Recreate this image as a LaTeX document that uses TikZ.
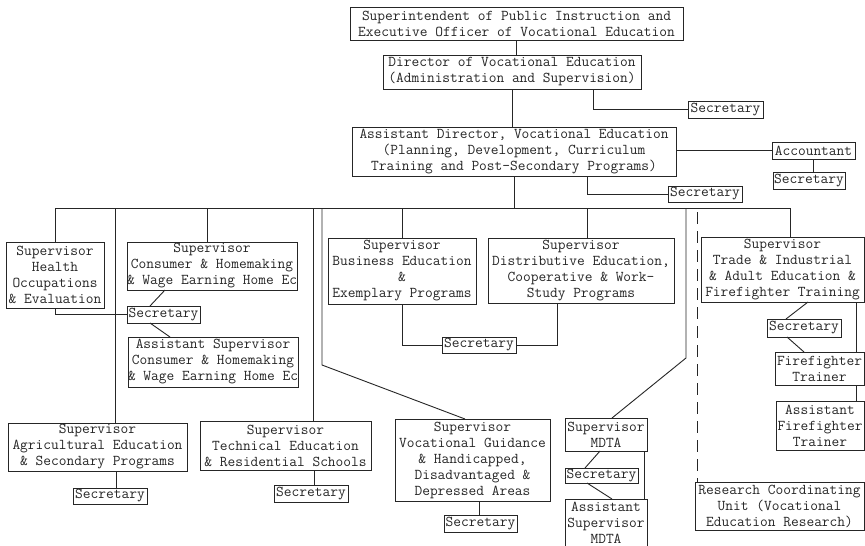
\documentclass[tikz,border=0pt]{standalone}
\usetikzlibrary{calc}
\tikzset{
  orgbox/.style={draw=black!85, line width=0.9pt, rectangle, inner sep=0pt, outer sep=0pt,
    align=center, text=black!85, font={\ttfamily\fontsize{15}{16}\selectfont}},
  link/.style={draw=black!85, line width=0.9pt},
  dashlink/.style={link, dash pattern=on 12pt off 7pt}
}
\newcommand\orgnode[6]{\node[orgbox, minimum width={(#4)-(#2)}, minimum height={(#5)-(#3)}]
  (#1) at ({((#2)+(#4))/2},{((#3)+(#5))/2}) {#6};}
\begin{document}
\begin{tikzpicture}[x=1pt,y=-1pt]
\useasboundingbox (0,0) rectangle (865,546);
\fill[white] (0,0) rectangle (865,546);
% top
\orgnode{super}{350}{7}{683}{40}{Superintendent of Public Instruction and\\Executive Officer of Vocational Education}
\orgnode{director}{383}{55}{641}{89}{Director of Vocational Education\\(Administration and Supervision)}
\orgnode{dsec}{688}{101}{763}{118}{Secretary}
\orgnode{ad}{352}{127}{676}{176}{Assistant Director, Vocational Education\\(Planning, Development, Curriculum\\Training and Post-Secondary Programs)}
\orgnode{acct}{772}{142}{855}{159}{Accountant}
\orgnode{asec}{773}{172}{845}{189}{Secretary}
\orgnode{adsec}{668}{186}{742}{202}{Secretary}
% left
\orgnode{health}{6}{242}{104}{308}{Supervisor\\Health\\Occupations\\\& Evaluation}
\orgnode{ch}{127}{242}{297}{290}{Supervisor\\Consumer \& Homemaking\\\& Wage Earning Home Ec}
\orgnode{chsec}{127}{306}{200}{323}{Secretary}
\orgnode{chasst}{128}{337}{298}{387}{Assistant Supervisor\\Consumer \& Homemaking\\\& Wage Earning Home Ec}
\orgnode{agri}{8}{423}{187}{471}{Supervisor\\Agricultural Education\\\& Secondary Programs}
\orgnode{agrisec}{73}{488}{147}{504}{Secretary}
\orgnode{tech}{200}{421}{371}{470}{Supervisor\\Technical Education\\\& Residential Schools}
\orgnode{techsec}{274}{485}{348}{502}{Secretary}
% middle
\orgnode{bus}{328}{238}{476}{304}{Supervisor\\Business Education\\\&\\Exemplary Programs}
\orgnode{dist}{488}{238}{674}{303}{Supervisor\\Distributive Education,\\Cooperative \& Work-\\Study Programs}
\orgnode{bsec}{442}{337}{516}{353}{Secretary}
\orgnode{vg}{395}{419}{550}{501}{Supervisor\\Vocational Guidance\\\& Handicapped,\\Disadvantaged \&\\Depressed Areas}
\orgnode{vgsec}{444}{515}{517}{532}{Secretary}
\orgnode{mdta}{565}{418}{647}{451}{Supervisor\\MDTA}
\orgnode{mdtasec}{565}{468}{638}{483}{Secretary}
\orgnode{mdtaasst}{565}{499}{647}{547}{Assistant\\Supervisor\\MDTA}
% right
\orgnode{ti}{701}{237}{864}{302}{Supervisor\\Trade \& Industrial\\\& Adult Education \&\\Firefighter Training}
\orgnode{tisec}{767}{319}{841}{337}{Secretary}
\orgnode{ft}{775}{352}{864}{385}{Firefighter\\Trainer}
\orgnode{aft}{776}{401}{864}{450}{Assistant\\Firefighter\\Trainer}
\orgnode{research}{695}{482}{864}{530}{Research Coordinating\\Unit (Vocational\\Education Research)}
% top connectors
\draw[link] (super.south) -- (super.south |- director.north);
\draw[link] (director.south) -- (director.south |- ad.north);
\draw[link] ($(director.south west)+(210,0)$) |- (dsec.west);
\draw[link] (acct.west -| ad.east) -- (acct.west);
\draw[link] (acct.south) -- (acct.south |- asec.north);
\draw[link] ($(ad.south west)+(235,0)$) |- (adsec.west);
% bus
\coordinate (bL) at (55,208);
\coordinate (bR) at (790,208);
\coordinate (b2) at (115,208);
\coordinate (b3) at (207,208);
\coordinate (b4) at (313,208);
\coordinate (b5) at (322,208);
\coordinate (k5) at (322,365);
\coordinate (b6) at (402,208);
\coordinate (b7) at (587,208);
\coordinate (b8) at (686,208);
\coordinate (k8) at (686,358);
\coordinate (dtop) at (697,212);
\draw[link] (bL) -- (bR);
\draw[link] (ad.south) -- (ad.south |- bL);
\draw[link] (bL) -- (health.north);
\draw[link] (b2) -- (b2 |- agri.north);
\draw[link] (b3) -- (b3 |- ch.north);
\draw[link] (b4) -- (b4 |- tech.north);
\draw[link] (b5) -- (k5) -- ($(vg.north west)+(70,0)$);
\draw[link] (b6) -- (b6 |- bus.north);
\draw[link] (b7) -- (b7 |- dist.north);
\draw[link] (b8) -- (k8) -- ($(mdta.north west)+(47,0)$);
\draw[link] (bR) -- (bR |- ti.north);
\draw[dashlink] (dtop) -- (dtop |- research.north);
% left connectors
\draw[link] (health.south) |- (chsec.west);
\draw[link] ($(ch.south west)+(38,0)$) -- ($(chsec.north west)+(23,0)$);
\draw[link] ($(chsec.south west)+(23,0)$) -- ($(chasst.north west)+(42,0)$);
\draw[link] ($(agri.south west)+(108,0)$) -- ($(agrisec.north west)+(43,0)$);
\draw[link] ($(tech.south west)+(114,0)$) -- ($(techsec.north west)+(40,0)$);
% middle connectors
\draw[link] (bus.south) |- (bsec.west);
\draw[link] ($(dist.south west)+(69,0)$) |- (bsec.east);
\draw[link] ($(vg.south west)+(84,0)$) -- ($(vgsec.north west)+(35,0)$);
\draw[link] ($(mdta.south west)+(35,0)$) -- ($(mdtasec.north west)+(20,0)$);
\draw[link] ($(mdtasec.south west)+(22,0)$) -- ($(mdtaasst.north west)+(47,0)$);
\draw[link] ($(mdta.south east)+(-3,0)$) -- ($(mdtaasst.north east)+(-3,0)$);
% right connectors
\draw[link] ($(ti.south west)+(107,0)$) -- ($(tisec.north west)+(19,0)$);
\draw[link] ($(tisec.south west)+(20,0)$) -- ($(ft.north west)+(29,0)$);
\draw[link] ($(ti.south east)+(-8,0)$) -- ($(ft.north east)+(-8,0)$);
\draw[link] ($(ft.south east)+(-8,0)$) -- ($(aft.north east)+(-8,0)$);
\end{tikzpicture}
\end{document}
